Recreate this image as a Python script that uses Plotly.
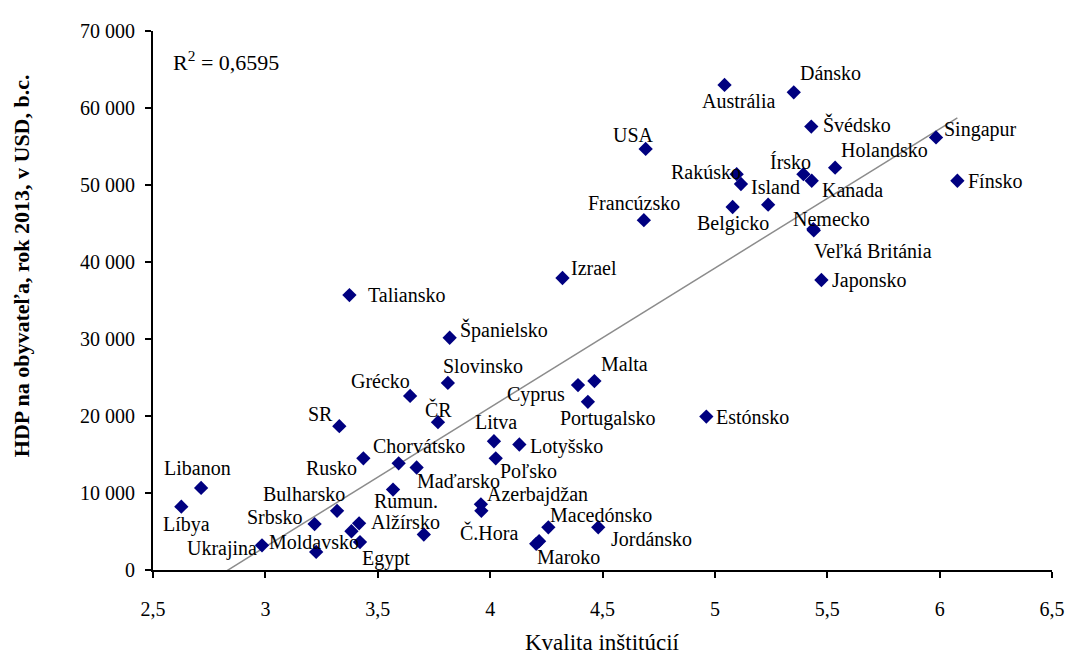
import numpy as np
import plotly.graph_objects as go

# ---------------- data ----------------
countries = ["Libanon", "Líbya", "SR", "Grécko", "Slovinsko", "ČR", "Rusko", "Chorvátsko",
             "Maďarsko", "Rumun.", "Bulharsko", "Srbsko", "", "Alžírsko", "Egypt", "Ukrajina",
             "Moldavsko", "", "Azerbajdžan", "Č.Hora", "Cyprus", "Malta", "Portugalsko",
             "Estónsko", "Litva", "Lotyšsko", "Poľsko", "Macedónsko", "Jordánsko", "Maroko", "",
             "Taliansko", "Španielsko", "Izrael", "Austrália", "Dánsko", "Švédsko", "USA",
             "Rakúsko", "Island", "", "Írsko", "Kanada", "Holandsko", "Francúzsko", "Belgicko",
             "Nemecko", "Veľká Británia", "Japonsko", "Singapur", "Fínsko"]

quality = [2.714, 2.626, 3.329, 3.644, 3.812, 3.768, 3.436, 3.593,
           3.673, 3.568, 3.319, 3.219, 3.383, 3.417, 3.421, 2.985,
           3.226, 3.705, 3.959, 3.961, 4.391, 4.464, 4.435,
           4.962, 4.017, 4.130, 4.025, 4.259, 4.481, 4.218, 4.205,
           3.374, 3.820, 4.322, 5.043, 5.351, 5.429, 4.692,
           5.097, 5.116, 5.237, 5.394, 5.431, 5.535, 4.684, 5.079,
           5.438, 5.440, 5.474, 5.984, 6.079]

gdp = [10660, 8230, 18680, 22610, 24300, 19200, 14500, 13860,
       13310, 10450, 7680, 5970, 5030, 6060, 3630, 3200,
       2350, 4610, 8530, 7680, 24020, 24530, 21840,
       19920, 16720, 16300, 14500, 5540, 5540, 3750, 3400,
       35700, 30160, 37920, 63000, 62030, 57590, 54690,
       51410, 50130, 47440, 51410, 50550, 52250, 45430, 47140,
       44280, 44100, 37660, 56180, 50550]

x_ticks = [2.5, 3, 3.5, 4, 4.5, 5, 5.5, 6, 6.5]
y_ticks = [0, 10000, 20000, 30000, 40000, 50000, 60000, 70000]
r2_text = "R<sup>2</sup> = 0,6595"
x_title = "Kvalita inštitúcií"
y_title = "HDP na obyvateľa, rok 2013, v USD, b.c."

# ---------------- label placement (style) ----------------
# name: (xanchor, dx px, dy px downward)
label_pos = {
    "Libanon": ("center", -4, -20), "Líbya": ("center", 5, 18), "SR": ("right", -4, -12),
    "Grécko": ("right", 2, -15), "ČR": ("center", 1, -13), "Slovinsko": ("left", -7, -17),
    "Rusko": ("right", -4, 10), "Chorvátsko": ("left", -28, -17), "Maďarsko": ("left", -2, 13),
    "Rumun.": ("center", 13, 11), "Bulharsko": ("right", 10, -17), "Srbsko": ("right", -10, -7),
    "Alžírsko": ("left", 10, -1), "Egypt": ("left", 0, 16), "Ukrajina": ("right", -3, 3),
    "Moldavsko": ("center", -2, -10), "Azerbajdžan": ("left", 4, -10), "Č.Hora": ("center", 8, 22),
    "Cyprus": ("right", -11, 9), "Malta": ("left", 5, -17), "Portugalsko": ("center", 20, 17),
    "Estónsko": ("left", 8, 0), "Litva": ("center", 2, -19), "Lotyšsko": ("left", 9, 2),
    "Poľsko": ("left", 2, 13), "Macedónsko": ("left", 0, -12), "Jordánsko": ("left", 11, 12),
    "Maroko": ("left", -4, 16), "Taliansko": ("left", 17, 0), "Španielsko": ("left", 8, -8),
    "Izrael": ("left", 7, -10), "Dánsko": ("left", 4, -19), "Austrália": ("center", 14, 16),
    "Švédsko": ("left", 10, -2), "USA": ("center", -12, -14), "Rakúsko": ("right", 6, -2),
    "Island": ("left", 8, 3), "Írsko": ("center", -13, -12), "Kanada": ("left", 8, 9),
    "Holandsko": ("left", 4, -18), "Francúzsko": ("center", -10, -17), "Belgicko": ("center", 0, 16),
    "Nemecko": ("center", 18, -10), "Veľká Británia": ("left", -2, 21), "Japonsko": ("left", 9, 0),
    "Singapur": ("left", 6, -8), "Fínsko": ("left", 9, 0),
}

FONT = "Liberation Serif"

fig = go.Figure()

# trend line (least squares fit of the data)
xa = np.array(quality)
ya = np.array(gdp)
slope, intercept = np.polyfit(xa, ya, 1)
tx = np.array([xa.min(), xa.max()])
fig.add_trace(go.Scatter(x=tx, y=slope * tx + intercept, mode="lines",
                         line=dict(color="#8c8c8c", width=1.5), hoverinfo="skip",
                         showlegend=False))

fig.add_trace(go.Scatter(x=quality, y=gdp, mode="markers", text=countries,
                         marker=dict(symbol="diamond", size=11, color="#000080",
                                     line=dict(width=0)),
                         showlegend=False, cliponaxis=False))

annotations = []
for name, xv, yv in zip(countries, quality, gdp):
    if not name:
        continue
    anchor, dx, dy = label_pos[name]
    annotations.append(dict(x=xv, y=yv, xref="x", yref="y", text=name, showarrow=False,
                            xanchor=anchor, yanchor="middle", xshift=dx, yshift=-dy,
                            font=dict(family=FONT, size=20, color="black")))

annotations.append(dict(x=0.02, y=0.945, xref="paper", yref="paper", text=r2_text,
                        showarrow=False, xanchor="left", yanchor="middle",
                        font=dict(family=FONT, size=22, color="black")))
annotations.append(dict(x=0.5, y=-0.134, xref="paper", yref="paper", text=x_title,
                        showarrow=False, xanchor="center", yanchor="middle",
                        font=dict(family=FONT, size=23, color="black")))
annotations.append(dict(x=-0.146, y=0.565, xref="paper", yref="paper",
                        text="<b>" + y_title + "</b>", textangle=-90,
                        showarrow=False, xanchor="center", yanchor="middle",
                        font=dict(family=FONT, size=22, color="black")))

axis_common = dict(showline=True, linecolor="black", linewidth=2, ticks="outside",
                   ticklen=6, tickwidth=2, tickcolor="black", showgrid=False,
                   zeroline=False, tickfont=dict(family=FONT, size=20, color="black"))

# the page adds an 8px body margin, so the figure is 8px smaller than the window
fig.update_layout(
    width=1069, height=651,
    margin=dict(l=145, r=14, t=15, b=89),
    paper_bgcolor="white", plot_bgcolor="white",
    separators=", ",
    xaxis=dict(range=[2.5, 6.5], tickvals=x_ticks, ticklabelstandoff=14, **axis_common),
    yaxis=dict(range=[0, 70000], tickvals=y_ticks, tickformat=",", ticklabelstandoff=6,
               **axis_common),
    annotations=annotations,
    font=dict(family=FONT, color="black"),
)

fig.write_html("out.html")
